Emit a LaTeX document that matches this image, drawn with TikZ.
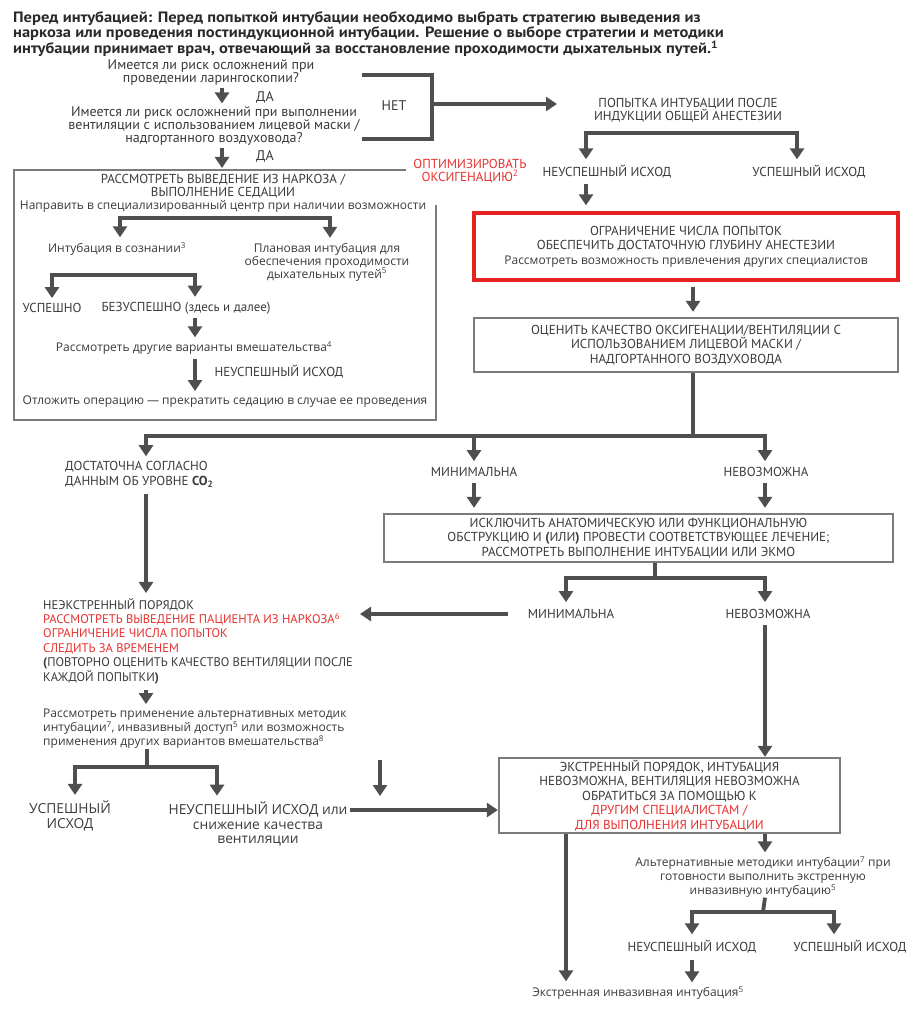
\documentclass[tikz,border=0pt]{standalone}
\usepackage{fontspec}
\setmainfont{Open Sans}
\newfontfamily\ptf{PT Sans}
\newfontfamily\pttf{PT Sans}[FakeStretch=1.1]
\usetikzlibrary{arrows.meta}
\definecolor{arrc}{HTML}{4F4F4F}
\definecolor{boxc}{HTML}{7B7B7B}
\definecolor{txtc}{HTML}{3B3B3B}
\definecolor{titc}{HTML}{2A2A2A}
\definecolor{redc}{HTML}{E8312F}
\definecolor{redbx}{HTML}{E52421}
\newcommand\lowf{\fontsize{12}{14}\selectfont}
\newcommand\upfont{\ptf\fontsize{13}{14.5}\selectfont}
\newcommand\qfont{\ptf\fontsize{14}{13}\selectfont}
\newcommand\bigfont{\fontsize{13.8}{14.5}\selectfont}
\newcommand\titfont{\pttf\bfseries\fontsize{15}{15}\selectfont}
\begin{document}
\begin{tikzpicture}[x=1pt,y=-1pt,
  tx/.style={inner sep=0pt, align=center, text=txtc, font=\lowf},
  up/.style={tx, font=\upfont},
  qq/.style={tx, font=\qfont},
  big/.style={tx, font=\bigfont},
  arr/.style={draw=arrc, line width=3.8pt, -{Triangle[width=14pt,length=11pt]}},
  ln/.style={draw=arrc, line width=3.8pt},
  boxst/.style={draw=boxc, line width=2.3pt, inner sep=0pt, align=center, text=txtc, font=\upfont},
  redst/.style={draw=redbx, line width=3.4pt, inner sep=0pt, align=center, text=txtc, font=\upfont},
  frame/.style={draw=boxc, line width=2.3pt}
]
\useasboundingbox[fill=white] (0,0) rectangle (922,1024);

% title
\node[anchor=north west, inner sep=0pt, align=left, font=\titfont, text=titc] (title) at (13,11)
 {Перед интубацией: Перед попыткой интубации необходимо выбрать стратегию выведения из\\
  наркоза или проведения постиндукционной интубации. Решение о выборе стратегии и методики\\
  интубации принимает врач, отвечающий за восстановление проходимости дыхательных путей.\textsuperscript{1}};

% columns
\coordinate (cA) at (222,0);
\coordinate (cB) at (586,0);
\coordinate (cC) at (693,0);
\coordinate (cD) at (146,0);
\coordinate (cE) at (474,0);
\coordinate (cF) at (765,0);
\coordinate (cG) at (566,0);
\coordinate (cH) at (692,0);
\coordinate (cL4) at (195,0);

% questions
\node[qq] (q1) at (211,72.5) {Имеется ли риск осложнений при\\проведении ларингоскопии?};
\node[qq] (da1) at (265,97) {ДА};
\node[qq] (q2) at (214,126) {Имеется ли риск осложнений при выполнении\\вентиляции с использованием лицевой маски /\\надгортанного воздуховода?};
\node[qq] (da2) at (265,156) {ДА};
\node[qq] (net) at (394,106) {НЕТ};
\node[up, font=\ptf\fontsize{13}{13.5}\selectfont] (pop) at (688,110) {ПОПЫТКА ИНТУБАЦИИ ПОСЛЕ\\ИНДУКЦИИ ОБЩЕЙ АНЕСТЕЗИИ};

\draw[arr, shorten <=2pt, shorten >=3pt] (q1.south -| cA) -- (q2.north -| cA);
\coordinate (ft) at (222,168);
\draw[arr, shorten <=2pt] (q2.south -| cA) -- (ft);

\coordinate (brT) at (362,75);
\coordinate (brB) at (362,139);
\coordinate (brC) at (432,104);
\coordinate (popin) at (557,104);
\draw[ln] (brT) -- (432,75) -- (432,139) -- (brB);
\draw[arr] (brC) -- (popin);

\node[up] (neu1) at (607,172) {НЕУСПЕШНЫЙ ИСХОД};
\node[up] (usp1) at (809,172) {УСПЕШНЫЙ ИСХОД};
\coordinate (j1L) at (586,133);
\coordinate (j1R) at (797,133);
\draw[arr, shorten >=6pt] (j1R) -- (j1L) -- (j1L |- neu1.north);
\draw[arr, shorten >=6pt] (j1L) -- (j1R) -- (j1R |- usp1.north);

\node[redst, minimum width=424pt, minimum height=67pt] (redbox) at (686,246.5)
 {\fontsize{13}{15}\selectfont ОГРАНИЧЕНИЕ ЧИСЛА ПОПЫТОК\\ОБЕСПЕЧИТЬ ДОСТАТОЧНУЮ ГЛУБИНУ АНЕСТЕЗИИ\\{\rmfamily\fontsize{12}{15}\selectfont Рассмотреть возможность привлечения других специалистов}};
\draw[arr, shorten <=5pt, shorten >=6pt] (neu1.south -| cB) -- (redbox.north -| cB);

\node[boxst, minimum width=424pt, minimum height=54pt] (ocen) at (686,345)
 {\fontsize{13}{14}\selectfont ОЦЕНИТЬ КАЧЕСТВО ОКСИГЕНАЦИИ/ВЕНТИЛЯЦИИ С\\ИСПОЛЬЗОВАНИЕМ ЛИЦЕВОЙ МАСКИ /\\НАДГОРТАННОГО ВОЗДУХОВОДА};
\draw[arr, shorten <=5pt, shorten >=5pt] (redbox.south -| cC) -- (ocen.north -| cC);

% left frame
\node[up, text=redc, font=\ptf\fontsize{13}{12.5}\selectfont] (opt) at (470,171) {ОПТИМИЗИРОВАТЬ\\ОКСИГЕНАЦИЮ\textsuperscript{2}};
\coordinate (fr1) at (406,170);
\coordinate (fr2) at (436,205);
\draw[frame] (fr1) -- (14,170) -- (14,420) -- (436,420) -- (fr2);

\node[up, font=\ptf\fontsize{13}{13}\selectfont] (r1a) at (223,186.5) {РАССМОТРЕТЬ ВЫВЕДЕНИЕ ИЗ НАРКОЗА /\\ВЫПОЛНЕНИЕ СЕДАЦИИ};
\node[tx] (r1b) at (223,206.5) {Направить в специализированный центр при наличии возможности};
\node[tx] (int3) at (117,249) {Интубация в сознании\textsuperscript{3}};
\node[tx, font=\fontsize{12}{13}\selectfont] (plan) at (327,262) {Плановая интубация для\\обеспечения проходимости\\дыхательных путей\textsuperscript{5}};
\coordinate (k1L) at (120,218);
\coordinate (k1R) at (330,218);
\draw[arr, shorten >=5pt] (k1R) -- (k1L) -- (k1L |- int3.north);
\draw[arr, shorten >=5pt] (k1L) -- (k1R) -- (k1R |- plan.north);

\node[up] (usp2) at (52,308) {УСПЕШНО};
\node[up] (bez) at (186,308) {БЕЗУСПЕШНО (здесь и далее)};
\coordinate (k2L) at (52,275);
\coordinate (k2R) at (195,275);
\draw[arr, shorten >=5pt] (k2R) -- (k2L) -- (k2L |- usp2.north);
\draw[arr, shorten >=5pt] (k2L) -- (k2R) -- (k2R |- bez.north);

\node[tx] (oth4) at (194,348) {Рассмотреть другие варианты вмешательства\textsuperscript{4}};
\draw[arr, shorten <=4pt, shorten >=4pt] (bez.south -| cL4) -- (oth4.north -| cL4);
\node[up] (neu2) at (279,372) {НЕУСПЕШНЫЙ ИСХОД};
\node[tx] (otl) at (225,402) {Отложить операцию — прекратить седацию в случае ее проведения};
\draw[arr, shorten <=4pt, shorten >=5pt] (oth4.south -| cL4) -- (otl.north -| cL4);

% main branch
\coordinate (j2) at (693,436);
\coordinate (j2L) at (146,436);
\coordinate (j2M) at (474,436);
\coordinate (j2R) at (765,436);
\node[up, anchor=west, align=left] (dost) at (65,474.5) {ДОСТАТОЧНА СОГЛАСНО\\ДАННЫМ ОБ УРОВНЕ \textbf{CO\textsubscript{2}}};
\node[up] (min1) at (474,472) {МИНИМАЛЬНА};
\node[up] (nev1) at (766,472) {НЕВОЗМОЖНА};
\draw[ln] (ocen.south -| cC) -- (j2);
\draw[arr, shorten >=5pt] (j2) -- (j2L) -- (j2L |- dost.north);
\draw[arr, shorten >=6pt] (j2) -- (j2R) -- (j2R |- nev1.north);
\draw[arr, shorten >=6pt] (j2M) -- (j2M |- min1.north);

\node[boxst, minimum width=509pt, minimum height=48pt] (iskl) at (638.5,538)
 {\fontsize{13}{14}\selectfont ИСКЛЮЧИТЬ АНАТОМИЧЕСКУЮ ИЛИ ФУНКЦИОНАЛЬНУЮ\\ОБСТРУКЦИЮ И \textbf{(}ИЛИ\textbf{)} ПРОВЕСТИ СООТВЕТСТВУЮЩЕЕ ЛЕЧЕНИЕ;\\РАССМОТРЕТЬ ВЫПОЛНЕНИЕ ИНТУБАЦИИ ИЛИ ЭКМО};
\draw[arr, shorten <=6pt, shorten >=5pt] (min1.south -| cE) -- (iskl.north -| cE);
\draw[arr, shorten <=6pt, shorten >=5pt] (nev1.south -| cF) -- (iskl.north -| cF);

\coordinate (cM) at (655,0);
\coordinate (j3) at (655,578);
\coordinate (j3L) at (566,578);
\coordinate (j3R) at (765,578);
\node[up] (min2) at (571,614) {МИНИМАЛЬНА};
\node[up] (nev2) at (768,614) {НЕВОЗМОЖНА};
\draw[ln] (iskl.south -| cM) -- (j3);
\draw[arr, shorten >=7pt] (j3) -- (j3L) -- (j3L |- min2.north);
\draw[arr, shorten >=7pt] (j3) -- (j3R) -- (j3R |- nev2.north);

% left lower
\node[up, anchor=west, align=left, font=\ptf\fontsize{12.5}{14.4}\selectfont] (neex) at (43,641)
 {НЕЭКСТРЕННЫЙ ПОРЯДОК\\
  \textcolor{redc}{РАССМОТРЕТЬ ВЫВЕДЕНИЕ ПАЦИЕНТА ИЗ НАРКОЗА\textsuperscript{6}}\\
  \textcolor{redc}{ОГРАНИЧЕНИЕ ЧИСЛА ПОПЫТОК}\\
  \textcolor{redc}{СЛЕДИТЬ ЗА ВРЕМЕНЕМ}\\
  \textbf{(}ПОВТОРНО ОЦЕНИТЬ КАЧЕСТВО ВЕНТИЛЯЦИИ ПОСЛЕ\\
  КАЖДОЙ ПОПЫТКИ\textbf{)}};
\draw[arr, shorten <=6pt, shorten >=5pt] (dost.south -| cD) -- (neex.north -| cD);
\coordinate (m2out) at (508,614);
\coordinate (neexin) at (360,614);
\draw[arr] (m2out) -- (neexin);

\node[tx, anchor=west, align=left] (alt) at (43,729)
 {Рассмотреть применение альтернативных методик\\интубации\textsuperscript{7}, инвазивный доступ\textsuperscript{5} или возможность\\применения других вариантов вмешательства\textsuperscript{8}};
\draw[arr, shorten <=6pt, shorten >=5pt] (neex.south -| cD) -- (alt.north -| cD);

\coordinate (cN) at (147,0);
\coordinate (j4) at (147,767);
\coordinate (j4L) at (75,767);
\coordinate (j4R) at (217,767);
\node[big] (usp3) at (70,816) {УСПЕШНЫЙ\\ИСХОД};
\node[big] (neu3) at (258,824) {НЕУСПЕШНЫЙ ИСХОД или\\снижение качества\\вентиляции};
\draw[ln] (alt.south -| cN) -- (j4);
\draw[arr, shorten >=6pt] (j4) -- (j4L) -- (j4L |- usp3.north);
\draw[arr, shorten >=6pt] (j4) -- (j4R) -- (j4R |- neu3.north);

\coordinate (s1) at (380,760);
\coordinate (s2) at (380,796);
\draw[arr] (s1) -- (s2);

% emergency
\node[boxst, minimum width=341pt, minimum height=75pt] (ekst) at (669.5,795.5)
 {\fontsize{13}{13.6}\selectfont ЭКСТРЕННЫЙ ПОРЯДОК, ИНТУБАЦИЯ\\НЕВОЗМОЖНА, ВЕНТИЛЯЦИЯ НЕВОЗМОЖНА\\ОБРАТИТЬСЯ ЗА ПОМОЩЬЮ К\\\textcolor{redc}{ДРУГИМ СПЕЦИАЛИСТАМ /}\\\textcolor{redc}{ДЛЯ ВЫПОЛНЕНИЯ ИНТУБАЦИИ}};
\coordinate (n3out) at (350,810);
\draw[arr] (n3out) -- (ekst.west |- n3out);
\draw[arr, shorten <=6pt] (nev2.south -| cF) -- (ekst.north -| cF);

\node[tx] (altm) at (763,877) {Альтернативные методики интубации\textsuperscript{7} при\\готовности выполнить экстренную\\инвазивную интубацию\textsuperscript{5}};
\draw[arr, shorten >=4pt] (ekst.south -| cF) -- (altm.north -| cF);

\node[tx] (ekinv) at (638,993) {Экстренная инвазивная интубация\textsuperscript{5}};
\draw[arr, shorten >=5pt] (ekst.south -| cG) -- (ekinv.north -| cG);

\coordinate (j5) at (763,912);
\coordinate (j5L) at (692,912);
\coordinate (j5R) at (834,912);
\node[up] (neu4) at (692,947) {НЕУСПЕШНЫЙ ИСХОД};
\node[up] (usp4) at (850,947) {УСПЕШНЫЙ ИСХОД};
\draw[ln] (altm.south -| cF) -- (j5);
\draw[arr, shorten >=6pt] (j5) -- (j5L) -- (j5L |- neu4.north);
\draw[arr, shorten >=6pt] (j5) -- (j5R) -- (j5R |- usp4.north);
\draw[arr, shorten <=6pt, shorten >=4pt] (neu4.south -| cH) -- (ekinv.north -| cH);
\end{tikzpicture}
\end{document}
